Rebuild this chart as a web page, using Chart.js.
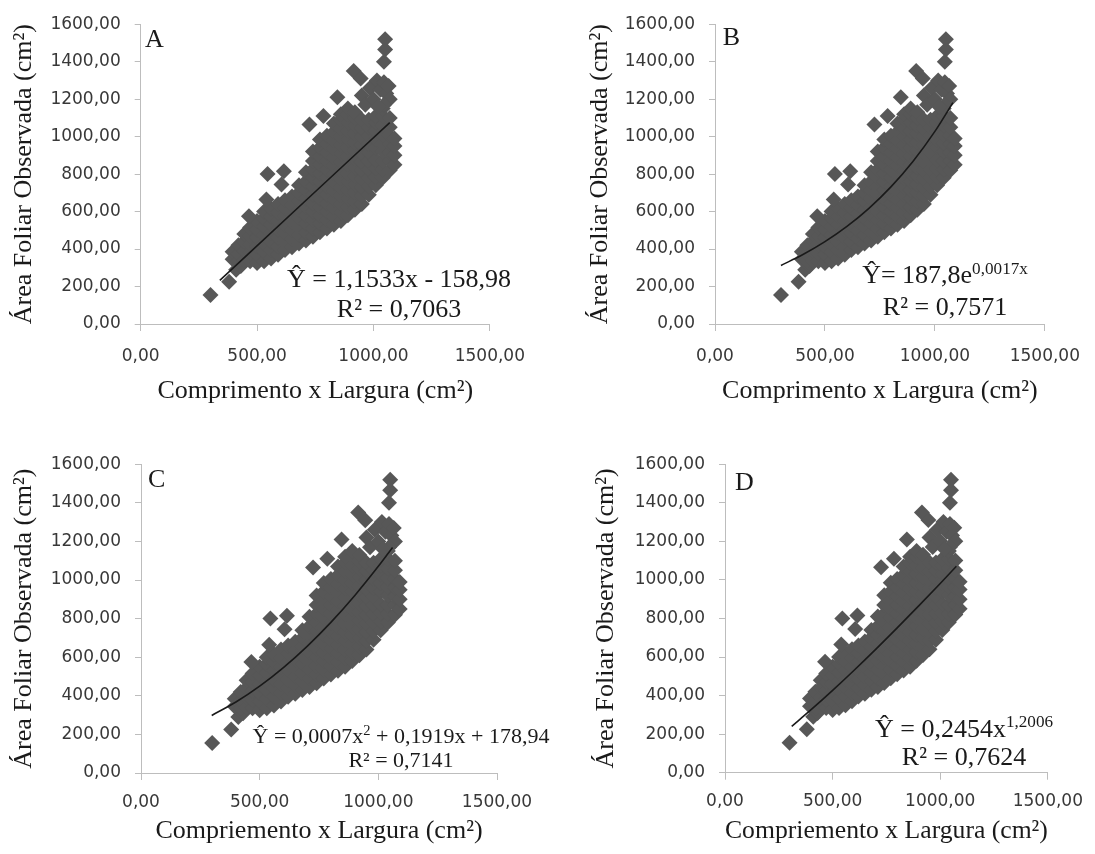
<!DOCTYPE html>
<html>
<head>
<meta charset="utf-8">
<script src="https://cdn.jsdelivr.net/npm/chart.js@4"></script>
<style>
  html, body { margin: 0; padding: 0; background: #ffffff; }
  body { width: 1095px; height: 854px; position: relative; overflow: hidden; }
  .panel { position: absolute; }
</style>
</head>
<body>
<div class="panel" id="pA" style="left:0px;top:0px;width:540px;height:425px;"><canvas id="cA"></canvas></div>
<div class="panel" id="pB" style="left:575px;top:0px;width:520px;height:425px;"><canvas id="cB"></canvas></div>
<div class="panel" id="pC" style="left:0px;top:440px;width:565px;height:414px;"><canvas id="cC"></canvas></div>
<div class="panel" id="pD" style="left:580px;top:440px;width:515px;height:414px;"><canvas id="cD"></canvas></div>
<script>
// ---------------- DATA ----------------
// Comprimento x Largura (cm²) -- observed leaf product values
const compLarg = [
  300, 380, 410, 430,
  395, 395,
  420, 420, 420,
  445, 445, 445, 445,
  470, 470, 470, 470, 470,
  500, 500, 500, 500, 500, 500,
  530, 530, 530, 530, 530, 530, 530,
  560, 560, 560, 560, 560, 560, 560,
  590, 590, 590, 590, 590, 590, 590,
  620, 620, 620, 620, 620, 620, 620,
  650, 650, 650, 650, 650, 650, 650,
  680, 680, 680, 680, 680, 680, 680, 680,
  710, 710, 710, 710, 710, 710, 710, 710, 710,
  740, 740, 740, 740, 740, 740, 740, 740, 740, 740, 740,
  770, 770, 770, 770, 770, 770, 770, 770, 770, 770, 770, 770,
  800, 800, 800, 800, 800, 800, 800, 800, 800, 800, 800, 800,
  830, 830, 830, 830, 830, 830, 830, 830, 830, 830, 830, 830, 830,
  860, 860, 860, 860, 860, 860, 860, 860, 860, 860, 860, 860, 860, 860,
  890, 890, 890, 890, 890, 890, 890, 890, 890, 890, 890, 890, 890, 890,
  920, 920, 920, 920, 920, 920, 920, 920, 920, 920, 920, 920, 920,
  950, 950, 950, 950, 950, 950, 950, 950, 950, 950, 950,
  980, 980, 980, 980, 980, 980, 980, 980, 980, 980,
  1010, 1010, 1010, 1010, 1010, 1010, 1010, 1010, 1010,
  1040, 1040, 1040, 1040, 1040, 1040, 1040, 1040, 1040,
  1070, 1070, 1070, 1070, 1070, 1070, 1070,
  1090, 1090, 1090, 1090,
  950, 965, 985, 1000, 1015, 1030, 1045, 1055, 1065, 1070, 1045, 1020,
  465, 540, 545, 605, 615, 725, 785, 845, 915, 945, 1045, 1050, 1050
];
// Área Foliar Observada (cm²)
const areaObs = [
  155, 225, 290, 310,
  345, 385,
  335, 375, 420,
  340, 390, 440, 480,
  335, 380, 425, 470, 515,
  325, 370, 415, 460, 505, 550,
  335, 385, 430, 475, 520, 565, 600,
  350, 395, 440, 485, 530, 575, 615,
  370, 415, 460, 505, 550, 595, 640,
  395, 440, 485, 530, 575, 620, 660,
  410, 455, 500, 545, 590, 635, 680,
  430, 475, 520, 565, 610, 655, 700, 740,
  445, 490, 535, 580, 625, 670, 715, 760, 810,
  465, 510, 555, 600, 645, 690, 735, 780, 825, 870, 920,
  490, 535, 580, 625, 670, 715, 760, 805, 850, 895, 940, 985,
  510, 555, 600, 645, 690, 735, 780, 825, 870, 915, 960, 1005,
  530, 575, 620, 665, 710, 755, 800, 845, 890, 935, 980, 1025, 1070,
  550, 595, 640, 685, 730, 775, 820, 865, 910, 955, 1000, 1045, 1090, 1120,
  580, 625, 670, 715, 760, 805, 850, 895, 940, 985, 1030, 1075, 1120, 1150,
  610, 655, 700, 745, 790, 835, 880, 925, 970, 1015, 1060, 1100, 1130,
  640, 685, 730, 775, 820, 865, 910, 955, 1000, 1045, 1090,
  690, 735, 780, 825, 870, 915, 960, 1005, 1050, 1090,
  740, 785, 830, 875, 940, 985, 1030, 1075, 1110,
  780, 825, 870, 920, 965, 1010, 1060, 1110, 1150,
  820, 870, 915, 960, 1005, 1050, 1100,
  850, 900, 950, 990,
  1220, 1170, 1260, 1200, 1300, 1250, 1290, 1230, 1270, 1200, 1170, 1160,
  575, 665, 800, 745, 815, 1065, 1110, 1210, 1350, 1310, 1400, 1465, 1520
];

// Trend lines (values of the fitted equations shown on each panel)
const trendAx = [340, 700, 1070];
const trendAy = [233.1, 648.3, 1075.0];
const trendBx = [300, 400, 500, 600, 700, 800, 900, 1000, 1082];
const trendBy = [312.7, 370.7, 439.4, 520.8, 617.3, 731.7, 867.3, 1028.0, 1181.8];
const trendCx = [298, 400, 500, 600, 700, 800, 900, 1000, 1060];
const trendCy = [298.3, 367.7, 449.9, 546.1, 656.3, 780.5, 918.7, 1070.8, 1168.9];
const trendDx = [310, 400, 500, 600, 700, 800, 900, 1000, 1075];
const trendDy = [240.5, 326.7, 427.0, 531.5, 639.7, 750.9, 865.0, 981.6, 1070.6];

// Tick values and labels
const xTickValues = [0, 500, 1000, 1500];
const xTickLabels = ['0,00', '500,00', '1000,00', '1500,00'];
const yTickValues = [0, 200, 400, 600, 800, 1000, 1200, 1400, 1600];
const yTickLabels = ['0,00', '200,00', '400,00', '600,00', '800,00', '1000,00', '1200,00', '1400,00', '1600,00'];

// Texts
const yTitle = 'Área Foliar Observada (cm²)';
const xTitleAB = 'Comprimento x Largura (cm²)';
const xTitleCD = 'Compriemento x Largura (cm²)';
const eqA = [{ t: 'Ŷ = 1,1533x - 158,98' }];
const eqB = [{ t: 'Ŷ= 187,8e' }, { t: '0,0017x', sup: true }];
const eqC = [{ t: 'Ŷ = 0,0007x' }, { t: '2', sup: true }, { t: ' + 0,1919x + 178,94' }];
const eqD = [{ t: 'Ŷ = 0,2454x' }, { t: '1,2006', sup: true }];
const r2A = 'R² = 0,7063';
const r2B = 'R² = 0,7571';
const r2C = 'R² = 0,7141';
const r2D = 'R² = 0,7624';

// ---------------- RENDERING ----------------
const SERIF = '"Liberation Serif", "Times New Roman", serif';
const SANS = '"DejaVu Sans", Verdana, sans-serif';
const TXT = '#1a1a1a';
const TICK_TXT = '#383838';
const AXIS = '#bdbdbd';
const MARK = '#575757';

function pairs(xs, ys) { return xs.map((x, i) => ({ x: x, y: ys[i] })); }

function textPlugin(p) {
  return {
    id: 'panelText' + p.letter,
    afterDatasetsDraw(chart) {
      const ctx = chart.ctx;
      ctx.save();
      ctx.fillStyle = TXT;
      ctx.textBaseline = 'alphabetic';
      ctx.textAlign = 'left';
      ctx.font = p.letterSize + 'px ' + SERIF;
      ctx.fillText(p.letter, p.letterX, p.letterY);
      const lines = [
        { parts: p.eq, y: p.eqY },
        { parts: [{ t: p.r2 }], y: p.r2Y }
      ];
      lines.forEach(line => {
        let total = 0;
        const widths = line.parts.map(part => {
          const size = part.sup ? p.eqSize * 0.66 : p.eqSize;
          ctx.font = size + 'px ' + SERIF;
          const w = ctx.measureText(part.t).width;
          total += w;
          return w;
        });
        let x = p.eqCx - total / 2;
        line.parts.forEach((part, i) => {
          const size = part.sup ? p.eqSize * 0.66 : p.eqSize;
          ctx.font = size + 'px ' + SERIF;
          ctx.fillText(part.t, x, part.sup ? line.y - p.eqSize * 0.36 : line.y);
          x += widths[i];
        });
      });
      ctx.restore();
    }
  };
}

function makeChart(canvasId, p) {
  return new Chart(document.getElementById(canvasId), {
    type: 'scatter',
    data: {
      datasets: [
        {
          data: pairs(p.tx, p.ty),
          showLine: true,
          borderColor: '#1a1a1a',
          borderWidth: 1.6,
          pointRadius: 0,
          cubicInterpolationMode: 'monotone',
          order: 0
        },
        {
          data: pairs(compLarg, areaObs),
          pointStyle: 'rectRot',
          pointRadius: 8,
          backgroundColor: MARK,
          borderColor: MARK,
          borderWidth: 0,
          order: 1
        }
      ]
    },
    options: {
      responsive: true,
      maintainAspectRatio: false,
      animation: false,
      events: [],
      layout: { padding: { top: p.padTop, right: p.padRight, left: 0, bottom: 0 } },
      plugins: { legend: { display: false }, tooltip: { enabled: false } },
      scales: {
        x: {
          type: 'linear',
          min: 0, max: 1500,
          afterFit(s) { s.height = p.xH; },
          afterBuildTicks(s) { s.ticks = xTickValues.map(v => ({ value: v })); },
          ticks: {
            callback: (v) => xTickLabels[xTickValues.indexOf(v)],
            font: { family: SANS, size: 17 },
            color: TICK_TXT,
            padding: p.xTickPad,
            maxRotation: 0,
            autoSkip: false
          },
          grid: { drawOnChartArea: false, drawTicks: true, tickLength: 7, color: AXIS },
          border: { display: true, color: AXIS, width: 1 },
          title: {
            display: true,
            text: p.xTitle,
            font: { family: SERIF, size: 26, lineHeight: 1.2 },
            color: TXT,
            padding: { top: 0, bottom: p.xTitlePadB }
          }
        },
        y: {
          type: 'linear',
          min: 0, max: 1600,
          afterFit(s) { s.width = p.yW; },
          afterBuildTicks(s) { s.ticks = yTickValues.map(v => ({ value: v })); },
          ticks: {
            callback: (v) => yTickLabels[yTickValues.indexOf(v)],
            font: { family: SANS, size: 17 },
            color: TICK_TXT,
            padding: 14,
            autoSkip: false
          },
          grid: { drawOnChartArea: false, drawTicks: true, tickLength: 6, color: AXIS },
          border: { display: true, color: AXIS, width: 1 },
          title: {
            display: true,
            text: yTitle,
            font: { family: SERIF, size: 26, lineHeight: 1.2 },
            color: TXT,
            padding: { top: p.yTitlePadT, bottom: 0 }
          }
        }
      }
    },
    plugins: [textPlugin(p)]
  });
}

makeChart('cA', {
  tx: trendAx, ty: trendAy, xTitle: xTitleAB,
  padTop: 20.7, padRight: 50, xH: 101, yW: 140.7,
  xTickPad: 15, xTitlePadB: 18.4, yTitlePadT: 8.4,
  letter: 'A', letterSize: 26, letterX: 145, letterY: 47,
  eq: eqA, r2: r2A, eqSize: 26, eqCx: 399, eqY: 287, r2Y: 317
});
makeChart('cB', {
  tx: trendBx, ty: trendBy, xTitle: xTitleAB,
  padTop: 20.7, padRight: 45, xH: 101, yW: 140,
  xTickPad: 15, xTitlePadB: 18.4, yTitlePadT: 9.4,
  letter: 'B', letterSize: 26, letterX: 147.7, letterY: 45,
  eq: eqB, r2: r2B, eqSize: 26, eqCx: 370, eqY: 283, r2Y: 315
});
makeChart('cC', {
  tx: trendCx, ty: trendCy, xTitle: xTitleCD,
  padTop: 23.5, padRight: 68, xH: 81, yW: 141,
  xTickPad: 12, xTitlePadB: 7.4, yTitlePadT: 8.4,
  letter: 'C', letterSize: 26, letterX: 148, letterY: 47,
  eq: eqC, r2: r2C, eqSize: 22, eqCx: 401, eqY: 303, r2Y: 327
});
makeChart('cD', {
  tx: trendDx, ty: trendDy, xTitle: xTitleCD,
  padTop: 24, padRight: 43, xH: 81.3, yW: 145,
  xTickPad: 12, xTitlePadB: 7.4, yTitlePadT: 10.4,
  letter: 'D', letterSize: 26, letterX: 155, letterY: 50,
  eq: eqD, r2: r2D, eqSize: 26, eqCx: 384, eqY: 296.7, r2Y: 325
});
</script>
</body>
</html>
